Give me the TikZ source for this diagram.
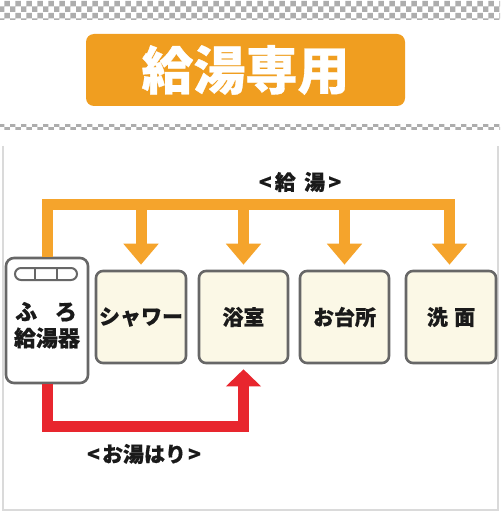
\documentclass[tikz,border=0pt]{standalone}
\usepackage{fontspec}
\newfontfamily\jp{Noto Sans CJK JP}[BoldFeatures={FakeBold=0.6}]
\usetikzlibrary{arrows.meta,patterns}
\definecolor{titleor}{HTML}{F09E20}
\definecolor{pipeor}{HTML}{F5A42C}
\definecolor{pipered}{HTML}{E8262E}
\definecolor{boxfill}{HTML}{FBF8E6}
\definecolor{boxline}{HTML}{676767}
\definecolor{txt}{HTML}{1A1A1A}
\definecolor{framegray}{HTML}{DADADA}
\tikzset{
  fixture/.style={draw=boxline, line width=2.6pt, fill=boxfill, rounded corners=7pt,
    minimum width=89pt, minimum height=92pt, inner sep=0pt, font=\jp\bfseries\fontsize{21}{24}\selectfont, text=txt},
  heaterbox/.style={draw=boxline, line width=2.6pt, fill=white, rounded corners=8pt,
    minimum width=82pt, minimum height=125pt, inner sep=0pt},
  lbl/.style={font=\jp\bfseries\fontsize{21}{24}\selectfont, text=txt, inner sep=0pt},
  opipe/.style={draw=pipeor, line width=11pt, line join=miter,
    -{Triangle[width=34pt,length=21pt]}},
  rpipe/.style={draw=pipered, line width=11pt, line join=miter,
    -{Triangle[width=34pt,length=17pt]}},
}
\begin{document}
\begin{tikzpicture}[x=1pt,y=-1pt]
\useasboundingbox (0,0) rectangle (500,513);
\fill[white] (0,0) rectangle (500,513);
% checkered bands
\fill[pattern=checkerboard, pattern color=black!32] (0,0) rectangle (500,20);
\fill[pattern=checkerboard, pattern color=black!32] (0,125) rectangle (500,130);
% frame
\draw[framegray, line width=2.5pt] (3,146) -- (3,510) -- (498,510) -- (498,146);
% title
\node[fill=titleor, rounded corners=8pt, minimum width=319pt, minimum height=72pt,
  inner sep=0pt, text=white, font=\jp\bfseries\fontsize{52}{56}\selectfont] (title) at (245.5,70) {給湯専用};
% boxes
\node[heaterbox] (heater) at (47,320.5) {};
\node[fixture, minimum width=90pt] (shower) at (141,317) {シャワー};
\node[fixture] (bath) at (243.5,317) {浴室};
\node[fixture] (kitchen) at (344.5,317) {お台所};
\node[fixture, minimum width=90pt] (sink) at (451,317) {洗\hspace{0.3em}面};
% heater details
\draw[boxline, line width=2pt, fill=white, rounded corners=6pt] (15,268) rectangle (77,280);
\draw[boxline, line width=2pt] (35,268) -- (35,280) (57,268) -- (57,280);
\node[lbl, font=\jp\bfseries\fontsize{22}{24}\selectfont] (furo) at (46,312) {ふ\hspace{0.8em}ろ};
\node[lbl, font=\jp\bfseries\fontsize{22}{24}\selectfont] (kyutoki) at (47,338) {給湯器};
% orange supply pipe
\coordinate (top) at (0,204.5);
\draw[opipe] (heater.north) -- (heater.north |- top) -- ([xshift=-1.5pt]sink.north |- top) -- ([xshift=-1.5pt,yshift=5pt]sink.north);
\draw[opipe] (shower.north |- top) -- ([yshift=5pt]shower.north);
\draw[opipe] (bath.north |- top) -- ([yshift=5pt]bath.north);
\draw[opipe] (kitchen.north |- top) -- ([yshift=5pt]kitchen.north);
% red fill pipe
\coordinate (bot) at (0,426);
\draw[rpipe] (heater.south) -- (heater.south |- bot) -- (bath.south |- bot) -- ([yshift=-5pt]bath.south);
% labels
\node[lbl] (kyuto) at (300,182) {<\hspace{0.15em}給\hspace{0.4em}湯\hspace{0.15em}>};
\node[lbl] (oyuhari) at (144,454) {<\hspace{0.1em}お湯はり\hspace{0.1em}>};
\end{tikzpicture}
\end{document}
